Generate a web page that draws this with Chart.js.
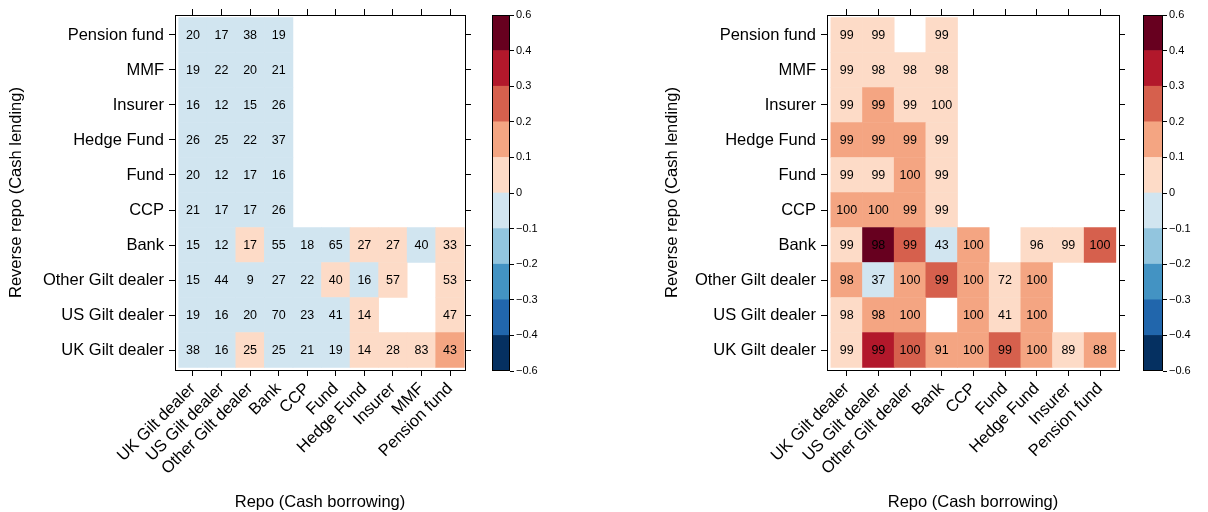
<!doctype html>
<html lang="en">
<head>
<meta charset="utf-8">
<title>Repo network heatmaps</title>
<script src="https://cdn.jsdelivr.net/npm/chart.js"></script>
<style>
  body { margin: 0; background: #fff; }
  #wrap { position: relative; width: 1208px; height: 512px; }
  .box { position: absolute; top: 0; height: 512px; }
</style>
</head>
<body>
<div id="wrap">
  <div class="box" style="left:0;width:480px"><canvas id="leftChart"></canvas></div>
  <div class="box" style="left:480px;width:100px"><canvas id="leftKey"></canvas></div>
  <div class="box" style="left:656px;width:474px"><canvas id="rightChart"></canvas></div>
  <div class="box" style="left:1130px;width:78px"><canvas id="rightKey"></canvas></div>
</div>

<script>
// rows go bottom (UK Gilt dealer) to top (Pension fund)
const rowNames = ['UK Gilt dealer', 'US Gilt dealer', 'Other Gilt dealer', 'Bank', 'CCP',
  'Fund', 'Hedge Fund', 'Insurer', 'MMF', 'Pension fund'];
const leftCols = ['UK Gilt dealer', 'US Gilt dealer', 'Other Gilt dealer', 'Bank', 'CCP',
  'Fund', 'Hedge Fund', 'Insurer', 'MMF', 'Pension fund'];
const rightCols = ['UK Gilt dealer', 'US Gilt dealer', 'Other Gilt dealer', 'Bank', 'CCP',
  'Fund', 'Hedge Fund', 'Insurer', 'Pension fund'];

// numbers printed in the cells
const leftCounts = [
  [38, 16, 25, 25, 21, 19, 14, 28, 83, 43],
  [19, 16, 20, 70, 23, 41, 14, null, null, 47],
  [15, 44, 9, 27, 22, 40, 16, 57, null, 53],
  [15, 12, 17, 55, 18, 65, 27, 27, 40, 33],
  [21, 17, 17, 26],
  [20, 12, 17, 16],
  [26, 25, 22, 37],
  [16, 12, 15, 26],
  [19, 22, 20, 21],
  [20, 17, 38, 19]
];
// cell colour, read against the colour key
const leftShade = [
  [-0.05, -0.05, 0.05, -0.05, -0.05, -0.05, 0.05, 0.05, 0.05, 0.15],
  [-0.05, -0.05, -0.05, -0.05, -0.05, -0.05, 0.05, null, null, 0.05],
  [-0.05, -0.05, -0.05, -0.05, -0.05, 0.05, -0.05, 0.05, null, 0.05],
  [-0.05, -0.05, 0.05, -0.05, -0.05, -0.05, 0.05, 0.05, -0.05, 0.05],
  [-0.05, -0.05, -0.05, -0.05],
  [-0.05, -0.05, -0.05, -0.05],
  [-0.05, -0.05, -0.05, -0.05],
  [-0.05, -0.05, -0.05, -0.05],
  [-0.05, -0.05, -0.05, -0.05],
  [-0.05, -0.05, -0.05, -0.05]
];

const rightCounts = [
  [99, 99, 100, 91, 100, 99, 100, 89, 88],
  [98, 98, 100, null, 100, 41, 100],
  [98, 37, 100, 99, 100, 72, 100],
  [99, 98, 99, 43, 100, null, 96, 99, 100],
  [100, 100, 99, 99],
  [99, 99, 100, 99],
  [99, 99, 99, 99],
  [99, 99, 99, 100],
  [99, 98, 98, 98],
  [99, 99, null, 99]
];
const rightShade = [
  [0.05, 0.35, 0.25, 0.15, 0.15, 0.25, 0.15, 0.05, 0.15],
  [0.05, 0.15, 0.15, null, 0.15, 0.05, 0.15],
  [0.15, -0.05, 0.15, 0.25, 0.15, 0.05, 0.15],
  [0.05, 0.5, 0.25, -0.05, 0.15, null, 0.05, 0.05, 0.25],
  [0.15, 0.15, 0.15, 0.05],
  [0.05, 0.05, 0.15, 0.05],
  [0.15, 0.15, 0.15, 0.05],
  [0.05, 0.15, 0.05, 0.05],
  [0.05, 0.05, 0.05, 0.05],
  [0.05, 0.05, null, 0.05]
];

const breaks = [-0.6, -0.4, -0.3, -0.2, -0.1, 0, 0.1, 0.2, 0.3, 0.4, 0.6];
const palette = ['#053061', '#2166AC', '#4393C3', '#92C5DE', '#D1E5F0',
  '#FDDBC7', '#F4A582', '#D6604D', '#B2182B', '#67001F'];

const FONT = '"Liberation Sans", Arial, Helvetica, sans-serif';
const labelFont = { family: FONT, size: 16.5 };

function shadeColor(v) {
  for (let k = 0; k < palette.length; k++) {
    if (v >= breaks[k] && v < breaks[k + 1]) return palette[k];
  }
  return palette[palette.length - 1];
}

// writes the number in the middle of each cell
const cellText = {
  id: 'cellText',
  afterDatasetsDraw(chart) {
    const ctx = chart.ctx;
    ctx.save();
    ctx.font = '12.5px ' + FONT;
    ctx.fillStyle = '#000';
    ctx.textAlign = 'center';
    ctx.textBaseline = 'middle';
    chart.data.datasets.forEach((ds, i) => {
      chart.getDatasetMeta(i).data.forEach((bar, j) => {
        const p = bar.getCenterPoint();
        ctx.fillText(ds.data[j].n, p.x, p.y + 0.5);
      });
    });
    ctx.restore();
  }
};

const keyFrame = {
  id: 'keyFrame',
  afterDatasetsDraw(chart) {
    const a = chart.chartArea;
    const ctx = chart.ctx;
    ctx.save();
    ctx.strokeStyle = '#000';
    ctx.lineWidth = 1;
    ctx.strokeRect(Math.round(a.left) + 0.5, Math.round(a.top) + 0.5,
      Math.round(a.right - a.left) - 1, Math.round(a.bottom - a.top) - 1);
    ctx.restore();
  }
};

function heatmap(id, cols, counts, shade, xMin, xMax, yWidth, rightWidth) {
  const datasets = rowNames.map((name, i) => ({
    label: name,
    data: cols.map((c, j) => counts[i][j] == null ? null :
      { x: j, y: [i - 0.5, i + 0.5], n: counts[i][j], v: shade[i][j] }).filter(d => d),
    backgroundColor: ctx => ctx.raw ? shadeColor(ctx.raw.v) : '#fff',
    grouped: false,
    barPercentage: 1,
    categoryPercentage: 1,
    borderWidth: 0
  }));

  const colTicks = axis => { axis.ticks = cols.map((c, j) => ({ value: j })); };
  const rowTicks = axis => { axis.ticks = rowNames.map((r, i) => ({ value: i })); };
  const tickGrid = { offset: false, drawOnChartArea: false, drawTicks: true, tickLength: 6, color: '#000', lineWidth: 1 };
  const frame = { display: true, color: '#000', width: 1 };
  const yMin = -0.571, yMax = 9.571;

  return new Chart(document.getElementById(id), {
    type: 'bar',
    data: { datasets },
    options: {
      responsive: true,
      maintainAspectRatio: false,
      animation: false,
      events: [],
      layout: { padding: 0 },
      plugins: { legend: { display: false }, tooltip: { enabled: false } },
      scales: {
        x: {
          type: 'linear', position: 'bottom', min: xMin, max: xMax, offset: false,
          afterBuildTicks: colTicks,
          afterFit: s => { s.height = 142; },
          grid: tickGrid, border: frame,
          ticks: {
            autoSkip: false, minRotation: 45, maxRotation: 45, padding: 3,
            color: '#000', font: labelFont, callback: v => cols[v]
          },
          title: {
            display: true, text: 'Repo (Cash borrowing)', color: '#000',
            font: labelFont, padding: { top: 4, bottom: 0 }
          }
        },
        x2: {
          type: 'linear', position: 'top', min: xMin, max: xMax, offset: false,
          afterBuildTicks: colTicks,
          afterFit: s => { s.height = 15; },
          grid: tickGrid, border: frame,
          ticks: { display: false }
        },
        y: {
          type: 'linear', position: 'left', min: yMin, max: yMax,
          afterBuildTicks: rowTicks,
          afterFit: s => { s.width = yWidth; },
          grid: tickGrid, border: frame,
          ticks: { padding: 5, color: '#000', font: labelFont, callback: v => rowNames[v] },
          title: {
            display: true, text: 'Reverse repo (Cash lending)', color: '#000',
            font: labelFont, padding: { top: 7, bottom: 0 }
          }
        },
        y2: {
          type: 'linear', position: 'right', min: yMin, max: yMax,
          afterBuildTicks: rowTicks,
          afterFit: s => { s.width = rightWidth; },
          grid: tickGrid, border: frame,
          ticks: { display: false }
        }
      }
    },
    plugins: [cellText]
  });
}

function colourKey(id, padLeft, axisWidth) {
  const fmt = b => (b < 0 ? '\u2212' : '') + Math.abs(b);
  return new Chart(document.getElementById(id), {
    type: 'bar',
    data: {
      labels: [''],
      datasets: palette.map((c, k) => ({
        data: [[k, k + 1]],
        backgroundColor: c,
        grouped: false,
        barPercentage: 1,
        categoryPercentage: 1,
        borderWidth: 0
      }))
    },
    options: {
      responsive: true,
      maintainAspectRatio: false,
      animation: false,
      events: [],
      layout: { padding: { left: padLeft, right: 0, top: 15, bottom: 141 } },
      plugins: { legend: { display: false }, tooltip: { enabled: false } },
      scales: {
        x: { display: false },
        y: {
          position: 'right', min: 0, max: 10,
          afterBuildTicks: a => { a.ticks = breaks.map((b, k) => ({ value: k })); },
          afterFit: s => { s.width = axisWidth; },
          grid: { drawOnChartArea: false, drawTicks: true, tickLength: 4, color: '#000' },
          border: { display: false },
          ticks: { padding: 2, color: '#000', font: { family: FONT, size: 11 }, callback: v => fmt(breaks[v]) }
        }
      }
    },
    plugins: [keyFrame]
  });
}

heatmap('leftChart', leftCols, leftCounts, leftShade, -0.63, 9.525, 175, 15);
colourKey('leftKey', 12, 70);
heatmap('rightChart', rightCols, rightCounts, rightShade, -0.622, 8.6, 171, 11);
colourKey('rightKey', 13, 45);
</script>
</body>
</html>
